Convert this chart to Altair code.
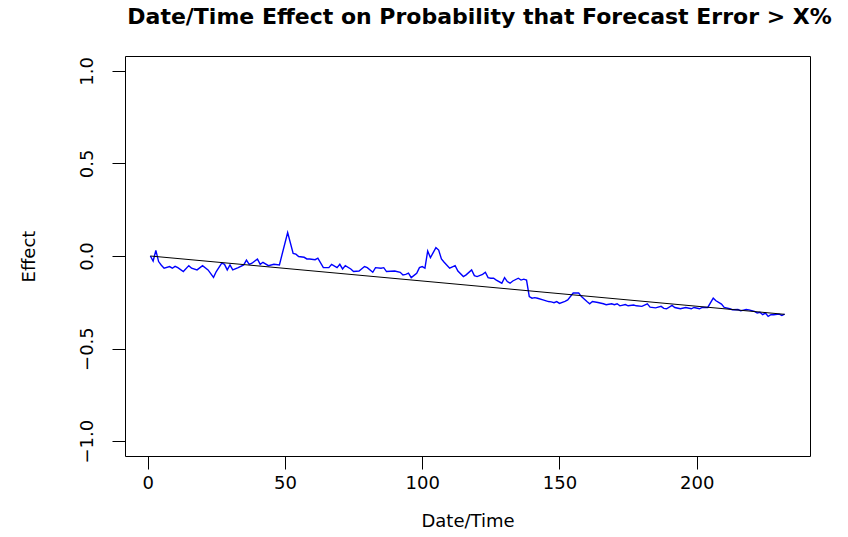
import altair as alt
import pandas as pd

# Blue series (Date/Time index vs effect)
date_idx = [1, 2, 3, 4, 5, 6, 8, 9, 10, 11, 13, 15, 16, 18, 20, 22, 24, 25, 27, 28, 29, 30, 31, 33, 35, 36, 37, 38, 40, 41, 42, 44, 46, 48,
            51, 53, 54, 55, 57, 58, 59, 61, 62, 64, 66, 67, 69, 70, 71, 72, 74, 75, 77, 79, 80, 82, 83, 85, 86, 87, 90, 92, 93,
            94, 95, 96, 98, 99, 100, 101, 102, 103, 105, 106, 107, 108, 110, 112, 113, 115, 116, 118, 119, 120, 122, 123, 124, 125, 126, 127, 129, 130, 131, 132, 133, 135, 136, 137, 138, 139, 140,
            141, 142, 144, 146, 147, 148, 149, 150, 152, 153, 155, 156, 157, 158, 160, 161, 162, 164, 166, 167, 169, 170, 171, 172, 174, 175, 177, 178, 180, 182, 183, 185, 187, 188,
            189, 191, 192, 194, 196, 198, 199, 201, 202, 204, 206, 207, 209, 210, 212, 213, 215, 216, 218, 219, 221, 222, 223, 224, 225, 226, 227, 228, 230, 231, 232]
effect = [0.0, -0.027, 0.03, -0.03, -0.05, -0.066, -0.057, -0.066, -0.056, -0.063, -0.084, -0.052, -0.066, -0.075, -0.052, -0.075, -0.115, -0.084, -0.039, -0.045, -0.075, -0.048, -0.075, -0.063, -0.048, -0.022, -0.045, -0.039, -0.016, -0.045, -0.034, -0.052, -0.045, -0.048,
          0.127, 0.014, 0.01, -0.003, -0.007, -0.016, -0.016, -0.02, -0.012, -0.063, -0.063, -0.045, -0.063, -0.045, -0.07, -0.052, -0.07, -0.084, -0.081, -0.057, -0.063, -0.088, -0.063, -0.066, -0.063, -0.084, -0.081, -0.088, -0.102,
          -0.099, -0.093, -0.117, -0.093, -0.063, -0.057, -0.066, 0.027, -0.009, 0.045, 0.032, -0.016, -0.034, -0.066, -0.052, -0.081, -0.111, -0.102, -0.075, -0.106, -0.111, -0.099, -0.088, -0.117, -0.12, -0.12, -0.13, -0.147, -0.117, -0.138, -0.147, -0.135, -0.12, -0.13, -0.125, -0.13, -0.219, -0.228,
          -0.225, -0.228, -0.237, -0.246, -0.248, -0.252, -0.246, -0.256, -0.245, -0.237, -0.2, -0.2, -0.2, -0.219, -0.246, -0.258, -0.246, -0.251, -0.258, -0.263, -0.258, -0.263, -0.258, -0.269, -0.262, -0.269, -0.265, -0.269, -0.272, -0.258, -0.276, -0.28, -0.272, -0.283,
          -0.285, -0.267, -0.278, -0.285, -0.278, -0.285, -0.278, -0.285, -0.278, -0.278, -0.228, -0.242, -0.26, -0.278, -0.285, -0.29, -0.289, -0.296, -0.289, -0.291, -0.299, -0.308, -0.304, -0.317, -0.308, -0.326, -0.317, -0.317, -0.314, -0.321, -0.314]

# Linear trend line endpoints
trend_x = [1, 232]
trend_y = [0.0, -0.315]

x_ticks = [0, 50, 100, 150, 200]
y_ticks = [-1.0, -0.5, 0.0, 0.5, 1.0]

df = pd.DataFrame({"t": date_idx, "effect": effect})
df_trend = pd.DataFrame({"t": trend_x, "effect": trend_y})

FONT = "DejaVu Sans"

xs = alt.Scale(domain=[-8.24, 241.24], nice=False, zero=False)
ys = alt.Scale(domain=[-1.08, 1.08], nice=False, zero=False)

xenc = alt.X("t:Q", scale=xs, axis=alt.Axis(
    values=x_ticks, title="Date/Time", grid=False, domain=False, ticks=True,
    tickSize=13, tickColor="black", labelColor="black", labelFontSize=18,
    labelFont=FONT, labelPadding=5, titleFont=FONT, titleFontSize=18,
    titleFontWeight="normal", titleColor="black", titlePadding=20, format="d"))
yenc = alt.Y("effect:Q", scale=ys, axis=alt.Axis(
    values=y_ticks, title="Effect", grid=False, domain=False, ticks=True,
    tickSize=13, tickColor="black", labelColor="black", labelFontSize=18,
    labelFont=FONT, labelAngle=270, labelAlign="center", labelBaseline="bottom",
    labelPadding=16, format=".1f", titleFont=FONT, titleFontSize=18,
    titleFontWeight="normal", titleColor="black", titlePadding=40))

blue = alt.Chart(df).mark_line(color="#0000FF", strokeWidth=1.4).encode(x=xenc, y=yenc)
trend = alt.Chart(df_trend).mark_line(color="black", strokeWidth=1).encode(x="t:Q", y="effect:Q")

chart = alt.layer(blue, trend).properties(
    width=685, height=400,
    title=alt.TitleParams("Date/Time Effect on Probability that Forecast Error > X%",
                          font=FONT, fontSize=22, fontWeight="bold", color="black",
                          anchor="middle", offset=27, dx=12),
    padding={"left": 125, "top": 56, "right": 38, "bottom": 81},
    autosize=alt.AutoSizeParams(type="none"),
    background="white",
).configure_view(stroke="black", strokeWidth=1)

chart.save("out.html", embed_options={"renderer": "svg", "actions": False})
